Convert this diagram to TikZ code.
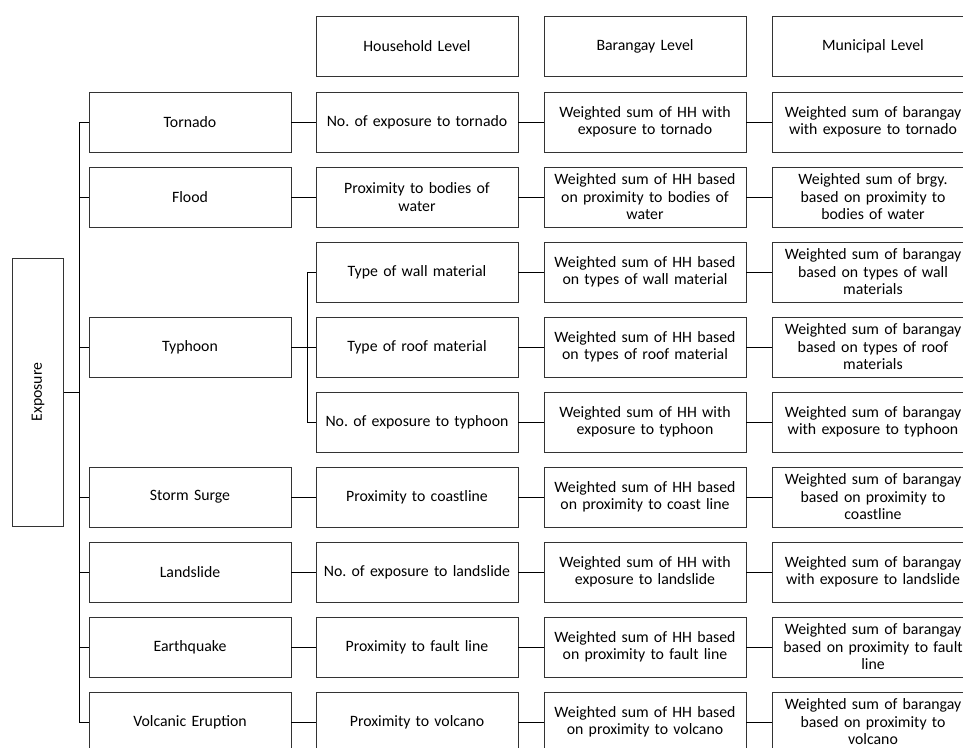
\documentclass[tikz,border=0pt]{standalone}
\usepackage{fontspec}
\setmainfont{Carlito}
\usetikzlibrary{calc}

\begin{document}
\begin{tikzpicture}[%
x=1pt, y=-1pt,
box/.style={draw=black!80, line width=0.7pt, minimum width=202pt, minimum height=60pt,
  text width=200pt, align=center, inner sep=1pt, font=\fontsize{15.8}{17.5}\selectfont},
link/.style={draw=black, line width=0.9pt},
]
\useasboundingbox (0,0) rectangle (963,747);
\clip (0,0) rectangle (963,747);
%% root;
\node [box, minimum width=268pt, minimum height=51pt, text width=260pt, rotate=90] (expo) at (38,392) {Exposure};
%% headers;
\node [box] (hhead) at (417,46) {Household Level};
\node [box] (bhead) at (645,46) {Barangay Level};
\node [box] (mhead) at (873,46) {Municipal Level};
%% hazards;
\node [box] (tornado) at (190,122) {Tornado};
\node [box] (flood) at (190,197) {Flood};
\node [box] (typhoon) at (190,347) {Typhoon};
\node [box] (surge) at (190,497) {Storm Surge};
\node [box] (landslide) at (190,572) {Landslide};
\node [box] (quake) at (190,647) {Earthquake};
\node [box] (volcano) at (190,722) {Volcanic Eruption};
%% household level;
\node [box] (hh1) at (417,122) {No.\ of exposure to tornado};
\node [box] (hh2) at (417,197) {Proximity to bodies of\\ water};
\node [box] (hh3) at (417,272) {Type of wall material};
\node [box] (hh4) at (417,347) {Type of roof material};
\node [box] (hh5) at (417,422) {No.\ of exposure to typhoon};
\node [box] (hh6) at (417,497) {Proximity to coastline};
\node [box] (hh7) at (417,572) {No.\ of exposure to landslide};
\node [box] (hh8) at (417,647) {Proximity to fault line};
\node [box] (hh9) at (417,722) {Proximity to volcano};
%% barangay level;
\node [box] (br1) at (645,122) {Weighted sum of HH with\\ exposure to tornado};
\node [box] (br2) at (645,197) {Weighted sum of HH based\\ on proximity to bodies of\\ water};
\node [box] (br3) at (645,272) {Weighted sum of HH based\\ on types of wall material};
\node [box] (br4) at (645,347) {Weighted sum of HH based\\ on types of roof material};
\node [box] (br5) at (645,422) {Weighted sum of HH with\\ exposure to typhoon};
\node [box] (br6) at (645,497) {Weighted sum of HH based\\ on proximity to coast line};
\node [box] (br7) at (645,572) {Weighted sum of HH with\\ exposure to landslide};
\node [box] (br8) at (645,647) {Weighted sum of HH based\\ on proximity to fault line};
\node [box] (br9) at (645,722) {Weighted sum of HH based\\ on proximity to volcano};
%% municipal level;
\node [box] (mu1) at (873,122) {Weighted sum of barangay\\ with exposure to tornado};
\node [box] (mu2) at (873,197) {Weighted sum of brgy.\\ based on proximity to\\ bodies of water};
\node [box] (mu3) at (873,272) {Weighted sum of barangay\\ based on types of wall\\ materials};
\node [box] (mu4) at (873,347) {Weighted sum of barangay\\ based on types of roof\\ materials};
\node [box] (mu5) at (873,422) {Weighted sum of barangay\\ with exposure to typhoon};
\node [box] (mu6) at (873,497) {Weighted sum of barangay\\ based on proximity to\\ coastline};
\node [box] (mu7) at (873,572) {Weighted sum of barangay\\ with exposure to landslide};
\node [box] (mu8) at (873,647) {Weighted sum of barangay\\ based on proximity to fault\\ line};
\node [box] (mu9) at (873,722) {Weighted sum of barangay\\ based on proximity to\\ volcano};
%% trunk;
\coordinate (trunk) at (79,392);
\draw [link] (expo.south) -- (trunk);
\draw [link] (tornado.west) -- (tornado.west -| trunk) -- (volcano.west -| trunk) -- (volcano.west);
\draw [link] (flood.west) -- (flood.west -| trunk);
\draw [link] (typhoon.west) -- (typhoon.west -| trunk);
\draw [link] (surge.west) -- (surge.west -| trunk);
\draw [link] (landslide.west) -- (landslide.west -| trunk);
\draw [link] (quake.west) -- (quake.west -| trunk);
%% typhoon branch;
\coordinate (tbranch) at (307,347);
\draw [link] (hh3.west) -- (hh3.west -| tbranch) -- (hh5.west -| tbranch) -- (hh5.west);
\draw [link] (typhoon.east) -- (hh4.west);
%% rows;
\draw [link] (tornado.east) -- (hh1.west);
\draw [link] (flood.east) -- (hh2.west);
\draw [link] (surge.east) -- (hh6.west);
\draw [link] (landslide.east) -- (hh7.west);
\draw [link] (quake.east) -- (hh8.west);
\draw [link] (volcano.east) -- (hh9.west);
\draw [link] (hh1.east) -- (br1.west);
\draw [link] (hh2.east) -- (br2.west);
\draw [link] (hh3.east) -- (br3.west);
\draw [link] (hh4.east) -- (br4.west);
\draw [link] (hh5.east) -- (br5.west);
\draw [link] (hh6.east) -- (br6.west);
\draw [link] (hh7.east) -- (br7.west);
\draw [link] (hh8.east) -- (br8.west);
\draw [link] (hh9.east) -- (br9.west);
\draw [link] (br1.east) -- (mu1.west);
\draw [link] (br2.east) -- (mu2.west);
\draw [link] (br3.east) -- (mu3.west);
\draw [link] (br4.east) -- (mu4.west);
\draw [link] (br5.east) -- (mu5.west);
\draw [link] (br6.east) -- (mu6.west);
\draw [link] (br7.east) -- (mu7.west);
\draw [link] (br8.east) -- (mu8.west);
\draw [link] (br9.east) -- (mu9.west);
\end{tikzpicture}
\end{document}
